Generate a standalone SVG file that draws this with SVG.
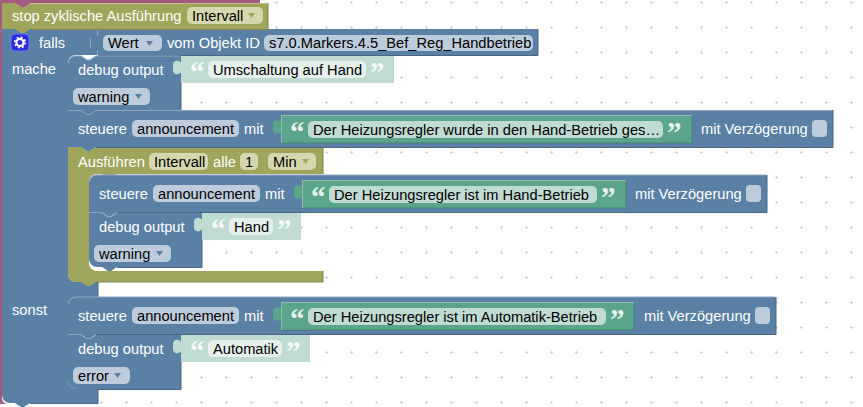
<svg xmlns="http://www.w3.org/2000/svg" xmlns:xlink="http://www.w3.org/1999/xlink" width="863" height="407" viewBox="0 0 863 407">
<style>
text{font-family:"Liberation Sans",Arial,sans-serif;font-size:14.67px}
.w{fill:#fff}.k{fill:#000}
.q{font-family:"Liberation Serif",serif;font-weight:bold;font-size:29px}
.ql{fill:#f6faf8}.qg{fill:#e6f2ee}
.b{fill:#5b80a5}.ol{fill:#9fa55b}.lt{fill:#bfdbd2}.gr{fill:#5ba58c}
.pb{fill:#bdccdb}.po{fill:#d5d8ae}.pl{fill:#e5f0ec}.pg{fill:#bfdbd2}
.hl{stroke:#8da6c0;fill:none}.dk{stroke:#496684;fill:none}
.hg{stroke:#8cc0ae;fill:none}.dg{stroke:#498470;fill:none}
.ho{stroke:#bcc088;fill:none}.dko{stroke:#7f8449;fill:none}
.ab{fill:#5b80a5}.ao{fill:#9fa55b}
</style>
<defs>
<pattern id="grid" width="25" height="25" patternUnits="userSpaceOnUse" x="0" y="0">
<rect x="1" y="1" width="1" height="3" fill="#d4d4d4"/><rect x="0" y="2" width="3" height="1" fill="#d4d4d4"/>
</pattern>
<path id="tab" d="M0,6 c-3,-3 -8,-2 -8,2 v6 c0,4 5,5 8,2 Z"/>
</defs>
<rect width="863" height="407" fill="#fff"/>
<rect width="863" height="407" fill="url(#grid)"/>

<g id="outer-function">
<path d="M0,0 H260 V3 H31 l-6,4 h-4 l-6,-4 H2 V397 q0,6 5,7 H0 Z" fill="#a55b80"/>
</g>

<g id="if-block">
<path class="b" d="M2,29 H538 V55 H96 H76 a8,8 0 0 0 -8,8 V274 a8,8 0 0 0 8,8 H98 V297 H76 a8,8 0 0 0 -8,8 V381 a8,8 0 0 0 8,8 H98 V403 H30 l-6,4 h-3 l-6,-4 H10 a8,8 0 0 1 -8,-8 Z"/>
<path class="dk" d="M538,29 V55.500 H98 M98,282 V297 M98,389 V403.500 H30"/>
<path class="hl" d="M97.500,30 V36 M97.500,50 V55"/>
<rect x="11" y="34" width="18" height="17" rx="4" fill="#2a2ae0" stroke="#6f78e8"/>
<circle cx="20" cy="42.500" r="3.600" fill="none" stroke="#fff" stroke-width="2.200"/>
<circle cx="20" cy="42.500" r="5.300" fill="none" stroke="#fff" stroke-width="1.600" stroke-dasharray="2 2.160"/>
<text class="w" x="39" y="48">falls</text>
<use xlink:href="#tab" x="98" y="30" class="b"/>
<path class="hl" d="M90.500,38 v10"/>
<rect class="pb" x="103" y="35" width="59" height="16" rx="5"/>
<text class="k" x="108" y="48">Wert</text>
<path class="ab" d="M146,41 h7 l-3.500,5 Z"/>
<text class="w" x="167" y="48">vom Objekt ID</text>
<rect class="pb" x="264" y="35" width="269" height="16" rx="5"/>
<text class="k" x="269" y="48">s7.0.Markers.4.5_Bef_Reg_Handbetrieb</text>
<text class="w" x="12" y="74">mache</text>
<text class="w" x="12" y="315">sonst</text>
</g>

<g id="stop-block">
<path class="ol" d="M2,3 H15 l6,4 h4 l6,-4 H268 V29 H30 l-6,4 h-3 l-6,-4 H2 Z"/>
<path class="dko" d="M268,3 V29.500 H30"/>
<path class="ho" d="M31,3.500 H267"/>
<text class="w" x="12" y="21">stop zyklische Ausführung</text>
<rect class="po" x="187" y="7" width="76" height="17" rx="5"/>
<text class="k" x="192" y="21">Intervall</text>
<path class="ao" d="M248,13 h7 l-3.500,5 Z"/>
</g>

<g id="auto-debug">
<path class="b" d="M68,335 H81 l6,4 h3 l6,-4 H181 V389 H96 l-6,4 h-3 l-6,-4 H76 a8,8 0 0 1 -8,-8 Z"/>
<path class="dk" d="M181,362 V389.500 H96"/>
<text class="w" x="78" y="354">debug output</text>
<path class="lt" d="M181,335 H310 V362 H181 Z"/>
<use xlink:href="#tab" x="181" y="335.500" class="lt"/>
<rect class="pl" x="208" y="340" width="74" height="17" rx="5"/>
<text class="q ql" x="190" y="361">“</text><text class="q ql" x="286" y="361">”</text>
<text class="k" x="213" y="354">Automatik</text>
<rect class="pb" x="73" y="367" width="57" height="17" rx="5"/>
<text class="k" x="78" y="381">error</text>
<path class="ab" d="M114,373 h7 l-3.500,5 Z"/>
</g>

<g id="auto-announce">
<path class="b" d="M68,305 a8,8 0 0 1 8,-8 H776 V334.500 H96 l-6,4 h-3 l-6,-4 H68 Z"/>
<path class="dk" d="M776,297 V334.500 H96"/>
<path class="hl" d="M68.500,304 a7,7 0 0 1 7,-7 H775 M68,334.500 H81 l6,4 h3 l6,-4"/>
<text class="w" x="78" y="321">steuere</text>
<rect class="pb" x="132" y="307" width="107" height="17" rx="5"/>
<text class="k" x="137" y="321">announcement</text>
<text class="w" x="244" y="321">mit</text>
<path class="gr" d="M281,302 H634 V330 H281 Z"/>
<use xlink:href="#tab" x="281" y="303" class="gr"/>
<path class="dg" d="M634,302 V330 H281"/><path class="hg" d="M281.500,330 V303 M281,302.500 H634"/>
<rect class="pg" x="308" y="308" width="298" height="17" rx="5"/>
<text class="q qg" x="290" y="329">“</text><text class="q qg" x="610" y="329">”</text>
<text class="k" x="313" y="322">Der Heizungsregler ist im Automatik-Betrieb</text>
<text class="w" x="644" y="321">mit Verzögerung</text>
<rect class="pb" x="755" y="307" width="15" height="17" rx="4"/>
</g>

<g id="loop-block">
<path class="ol" d="M68,147 H81 l6,4 h3 l6,-4 H323 V174 H117 l-6,4 h-3 l-6,-4 H97 a8,8 0 0 0 -8,8 V263 a8,8 0 0 0 8,8 H323 V282 H96 l-6,4 h-3 l-6,-4 H76 a8,8 0 0 1 -8,-8 Z"/>
<path class="dko" d="M323,148 V174 M323,271 V282 H96"/>
<path class="ho" d="M96,147.500 H322"/>
<text class="w" x="78" y="167">Ausführen</text>
<rect class="po" x="149" y="153" width="59" height="17" rx="5"/>
<text class="k" x="154" y="167">Intervall</text>
<text class="w" x="213" y="167">alle</text>
<rect class="po" x="240" y="153" width="18" height="17" rx="5"/>
<text class="k" x="245" y="167">1</text>
<rect class="po" x="268" y="153" width="48" height="17" rx="5"/>
<text class="k" x="273" y="167">Min</text>
<path class="ao" d="M302,159 h7 l-3.500,5 Z"/>
</g>

<g id="hand-debug">
<path class="b" d="M89,213 H102 l6,4 h3 l6,-4 H202 V267 H117 l-6,4 h-3 l-6,-4 H97 a8,8 0 0 1 -8,-8 Z"/>
<path class="dk" d="M202,240 V267.500 H117"/>
<text class="w" x="99" y="232">debug output</text>
<path class="lt" d="M202,213 H301 V240 H202 Z"/>
<use xlink:href="#tab" x="202" y="213.500" class="lt"/>
<rect class="pl" x="229" y="218" width="44" height="17" rx="5"/>
<text class="q ql" x="211" y="239">“</text><text class="q ql" x="277" y="239">”</text>
<text class="k" x="234" y="232">Hand</text>
<rect class="pb" x="94" y="245" width="77" height="17" rx="5"/>
<text class="k" x="99" y="259">warning</text>
<path class="ab" d="M156,251 h7 l-3.500,5 Z"/>
</g>

<g id="hand-announce">
<path class="b" d="M89,183 a8,8 0 0 1 8,-8 H767 V212.500 H117 l-6,4 h-3 l-6,-4 H89 Z"/>
<path class="dk" d="M767,175 V212.500 H117"/>
<path class="hl" d="M89.500,182 a7,7 0 0 1 7,-7 H766 M89,212.500 H102 l6,4 h3 l6,-4"/>
<text class="w" x="99" y="199">steuere</text>
<rect class="pb" x="153" y="185" width="107" height="17" rx="5"/>
<text class="k" x="158" y="199">announcement</text>
<text class="w" x="265" y="199">mit</text>
<path class="gr" d="M302,180 H626 V208 H302 Z"/>
<use xlink:href="#tab" x="302" y="181" class="gr"/>
<path class="dg" d="M626,180 V208 H302"/><path class="hg" d="M302.500,208 V181 M302,180.500 H626"/>
<rect class="pg" x="329" y="186" width="268" height="17" rx="5"/>
<text class="q qg" x="311" y="207">“</text><text class="q qg" x="601" y="207">”</text>
<text class="k" x="334" y="200">Der Heizungsregler ist im Hand-Betrieb</text>
<text class="w" x="635" y="199">mit Verzögerung</text>
<rect class="pb" x="746" y="185" width="15" height="17" rx="4"/>
</g>

<g id="switch-announce">
<path class="b" d="M68,110 H833 V147 H96 l-6,4 h-3 l-6,-4 H68 Z"/>
<path class="dk" d="M833,110 V147.500 H96"/>
<path class="hl" d="M68,110.500 H832"/>
<text class="w" x="78" y="134">steuere</text>
<rect class="pb" x="132" y="120" width="107" height="17" rx="5"/>
<text class="k" x="137" y="134">announcement</text>
<text class="w" x="244" y="134">mit</text>
<path class="gr" d="M281,115 H692 V143 H281 Z"/>
<use xlink:href="#tab" x="281" y="116" class="gr"/>
<path class="dg" d="M692,115 V143 H281"/><path class="hg" d="M281.500,143 V116 M281,115.500 H692"/>
<rect class="pg" x="308" y="121" width="355" height="17" rx="5"/>
<text class="q qg" x="290" y="142">“</text><text class="q qg" x="667" y="142">”</text>
<text class="k" x="313" y="135">Der Heizungsregler wurde in den Hand-Betrieb ges…</text>
<text class="w" x="701" y="134">mit Verzögerung</text>
<rect class="pb" x="812" y="120" width="15" height="17" rx="4"/>
</g>

<g id="switch-debug">
<path class="b" d="M68,64 a8,8 0 0 1 8,-8 H81 l6,4 h3 l6,-4 H181 V110 H96 l-6,4 h-3 l-6,-4 H68 Z"/>
<path class="dk" d="M181,83 V110"/>
<path class="hl" d="M68.500,63 a7,7 0 0 1 7,-7 H81 l6,4 h3 l6,-4 H180 M68,110.500 H81 l6,4 h3 l6,-4 H181"/>
<text class="w" x="78" y="75">debug output</text>
<path class="lt" d="M181,56 H394 V83 H181 Z"/>
<use xlink:href="#tab" x="181" y="56.500" class="lt"/>
<rect class="pl" x="208" y="61" width="158" height="17" rx="5"/>
<text class="q ql" x="190" y="82">“</text><text class="q ql" x="370" y="82">”</text>
<text class="k" x="213" y="75">Umschaltung auf Hand</text>
<rect class="pb" x="73" y="88" width="77" height="17" rx="5"/>
<text class="k" x="78" y="102">warning</text>
<path class="ab" d="M135,94 h7 l-3.500,5 Z"/>
</g>
</svg>
